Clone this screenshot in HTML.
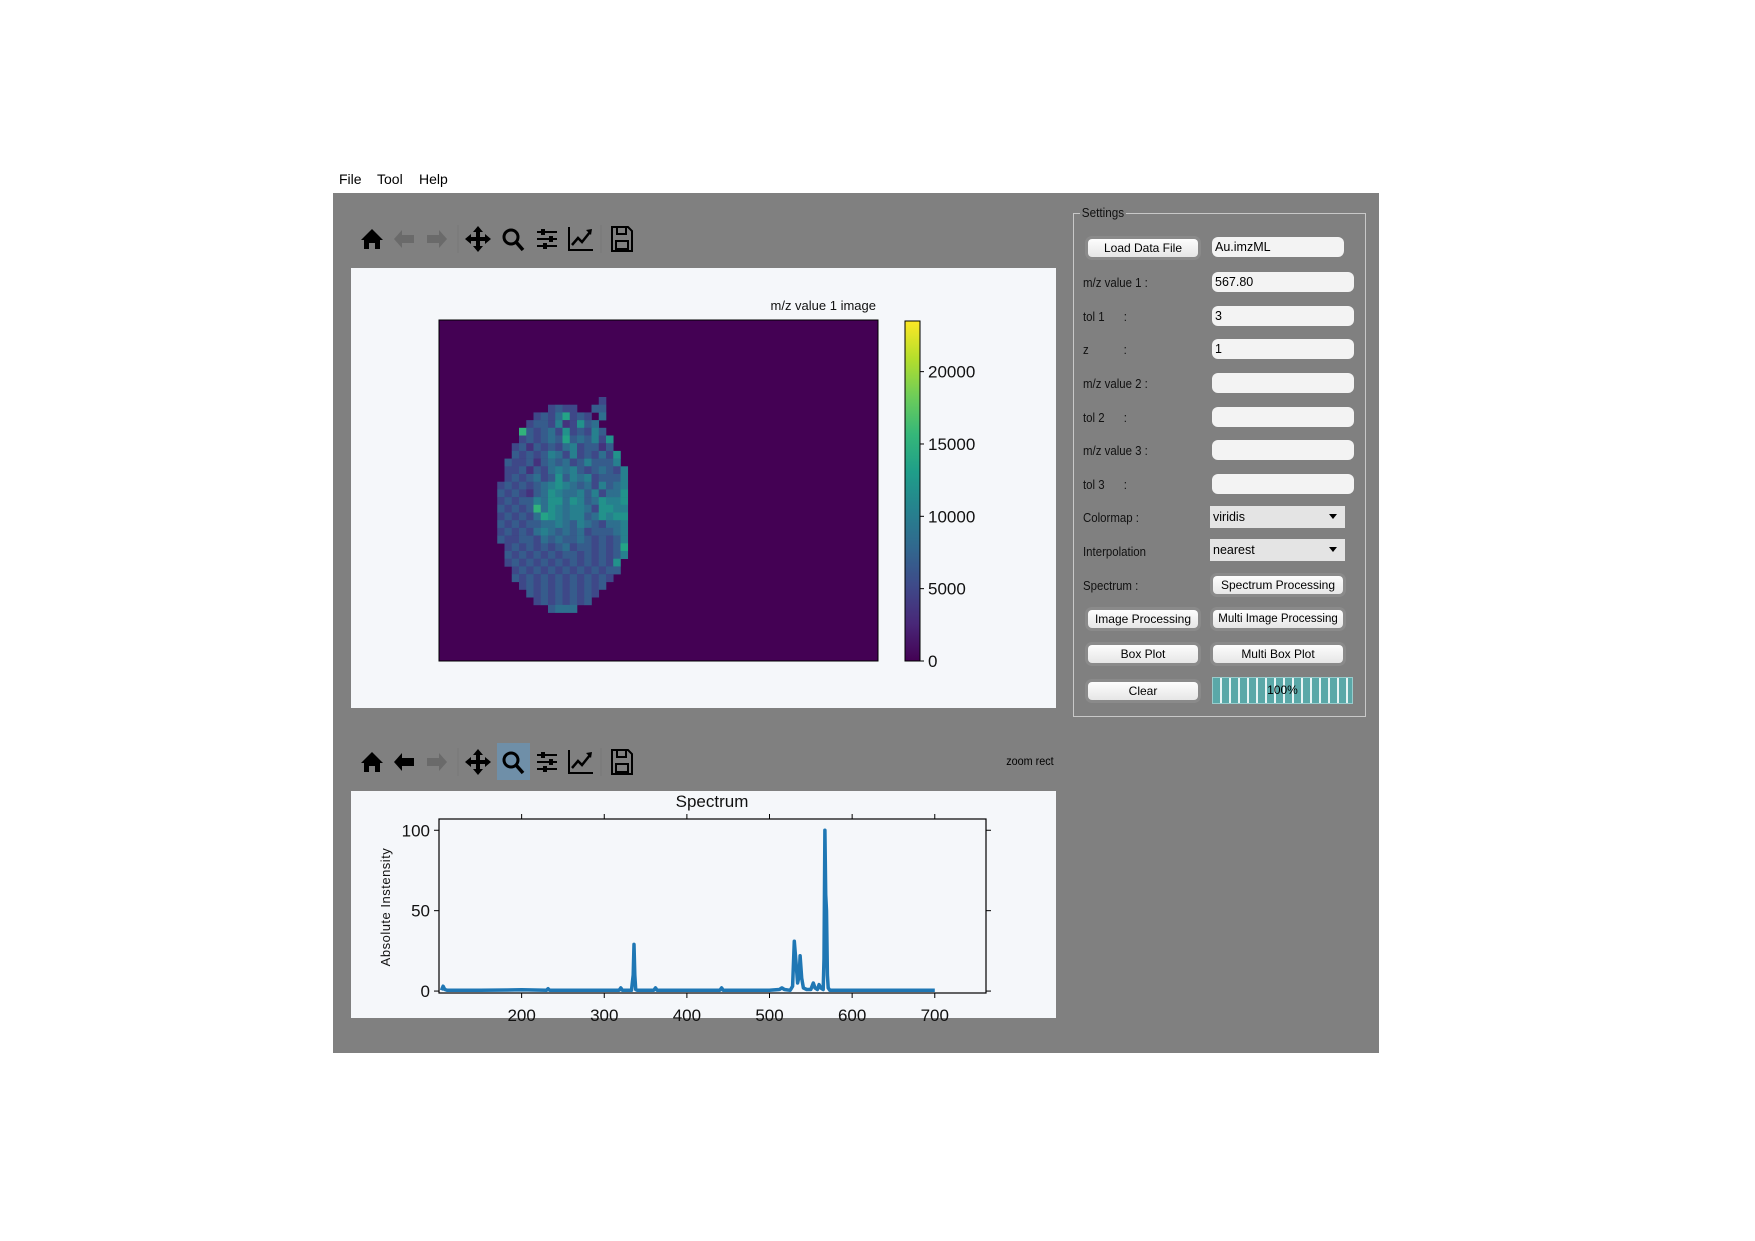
<!DOCTYPE html>
<html><head><meta charset="utf-8">
<style>
body{margin:0;width:1755px;height:1241px;background:#fff;position:relative;overflow:hidden;font-family:"Liberation Sans",sans-serif;}
.abs{position:absolute;}
.menu{font-size:14px;color:#000;top:171px;}
.lbl{position:absolute;left:1083px;font-size:13px;color:#111;transform:scaleX(0.88);transform-origin:left;}
.inp{position:absolute;left:1212px;width:142px;height:20px;background:#f3f3f3;border-radius:6px;font-size:12.5px;line-height:20px;padding-left:3px;box-sizing:border-box;color:#000;}
.btn{position:absolute;height:18px;background:linear-gradient(#fdfdfd,#e6e6e6);border-radius:4px;font-size:12px;line-height:18px;text-align:center;color:#000;box-shadow:0 0 0 3px #8a8a8a;white-space:nowrap;overflow:hidden;}
.combo{position:absolute;left:1210px;width:135px;height:22px;background:#e4e4e4;font-size:12.5px;line-height:22px;padding-left:3px;box-sizing:border-box;}
.combo:after{content:"";position:absolute;right:8px;top:8px;border-left:4px solid transparent;border-right:4px solid transparent;border-top:5px solid #000;}
</style></head><body>
<div class="abs menu" style="left:339px">File</div>
<div class="abs menu" style="left:377px">Tool</div>
<div class="abs menu" style="left:419px">Help</div>
<div class="abs" style="left:333px;top:193px;width:1046px;height:860px;background:#808080"></div>

<svg class="abs" style="left:0;top:0" width="1755" height="1241" id="tb"></svg>

<div class="abs" style="left:351px;top:268px;width:705px;height:440px;background:#f5f7fa"></div>
<div class="abs" style="left:351px;top:791px;width:705px;height:227px;background:#f5f7fa"></div>
<div class="abs" style="right:701px;top:754px;font-size:12px;color:#000;transform:scaleX(0.9);transform-origin:right">zoom rect</div>

<svg class="abs" style="left:0;top:0" width="1755" height="1241" id="charts"></svg>

<div class="abs" style="left:1073px;top:213px;width:293px;height:504px;border:1px solid #c8c8c8;box-sizing:border-box"></div>
<div class="abs" style="left:1080px;top:205px;background:#808080;padding:0 2px;font-size:13px;color:#111;transform:scaleX(0.9);transform-origin:left">Settings</div>
<div class="btn" style="left:1088px;top:239px;width:110px">Load Data File</div>
<div class="inp" style="top:237px;width:132px">Au.imzML</div>
<div class="lbl" style="top:275px">m/z value 1 :</div>
<div class="inp" style="top:272px">567.80</div>
<div class="lbl" style="top:309px">tol 1&nbsp;&nbsp;&nbsp;&nbsp;&nbsp;&nbsp;:</div>
<div class="inp" style="top:306px">3</div>
<div class="lbl" style="top:342px">z&nbsp;&nbsp;&nbsp;&nbsp;&nbsp;&nbsp;&nbsp;&nbsp;&nbsp;&nbsp;&nbsp;:</div>
<div class="inp" style="top:339px">1</div>
<div class="lbl" style="top:376px">m/z value 2 :</div>
<div class="inp" style="top:373px"></div>
<div class="lbl" style="top:410px">tol 2&nbsp;&nbsp;&nbsp;&nbsp;&nbsp;&nbsp;:</div>
<div class="inp" style="top:407px"></div>
<div class="lbl" style="top:443px">m/z value 3 :</div>
<div class="inp" style="top:440px"></div>
<div class="lbl" style="top:477px">tol 3&nbsp;&nbsp;&nbsp;&nbsp;&nbsp;&nbsp;:</div>
<div class="inp" style="top:474px"></div>
<div class="lbl" style="top:510px">Colormap :</div>
<div class="combo" style="top:506px">viridis</div>
<div class="lbl" style="top:544px">Interpolation</div>
<div class="combo" style="top:539px">nearest</div>
<div class="lbl" style="top:578px">Spectrum :</div>
<div class="btn" style="left:1213px;top:576px;width:130px">Spectrum Processing</div>
<div class="btn" style="left:1088px;top:610px;width:110px">Image Processing</div>
<div class="btn" style="left:1213px;top:610px;width:130px;font-size:11.5px">Multi Image Processing</div>
<div class="btn" style="left:1088px;top:645px;width:110px">Box Plot</div>
<div class="btn" style="left:1213px;top:645px;width:130px">Multi Box Plot</div>
<div class="btn" style="left:1088px;top:682px;width:110px">Clear</div>
<div class="abs" style="left:1212px;top:677px;width:141px;height:27px;box-sizing:border-box;border:1px solid #9cc;background:repeating-linear-gradient(90deg,#5aa8a8 0 7px,#e8f4f4 7px 9px);font-size:12px;line-height:25px;text-align:center">100%</div>

<script>
const heatRows = [
"...............3....",
"........3433..44....",
"......34358343.5....",
".....3443623745.....",
"....943453734364....",
"....3434548454637...",
"...34243435634424...",
"...434346536343537..",
"..4334245453464446..",
"..33424356564345436.",
"..34345347465634446.",
".343434567654536456.",
".434324576556463557.",
".343446577576457667.",
".434349576566537766.",
".343435876566457677.",
".434344556546543556.",
".343435654545344456.",
".433443545445434346.",
"..34343434534434348.",
"..43434343443434346.",
"..3434343434343437..",
"...343434343434344..",
"...43434343434343...",
"....343434343434....",
".....4343434343.....",
"......34343434......",
"........4555........"
];
const levelStep = [1700];
const cbarTicks = [0,5000,10000,15000,20000];
const cbarMax = [23500];
const specMz = [103,105,107,110,150,200,230,232,234,280,300,318,320,322,333,335,336,337,338,340,360,362,364,400,440,442,444,500,512,515,518,525,528,530,532,534,536,537,539,541,545,550,553,555,558,560,562,565,566,567,568,569,570,571,573,580,600,650,700];
const specI = [0.5,3,1,0.5,0.5,0.8,0.5,1.5,0.5,0.5,0.5,0.5,2,0.5,0.5,10,29,10,1,0.5,0.5,2,0.5,0.5,0.5,2,0.5,0.5,1,2,1,0.5,3,31,18,5,10,22,8,2,1,1,5,2,1,4,2,1,20,100,60,50,10,2,0.5,0.5,0.5,0.5,0.5];
const xTicks = [200,300,400,500,600,700];
const yTicks = [0,50,100];

const NS="http://www.w3.org/2000/svg";
const svg=document.getElementById('charts');
function mk(tag,attrs,parent){const e=document.createElementNS(NS,tag);for(const k in attrs)e.setAttribute(k,attrs[k]);(parent||svg).appendChild(e);return e;}
const V=[[68,1,84],[72,40,120],[62,74,137],[49,104,142],[38,130,142],[31,158,137],[53,183,121],[109,205,89],[180,222,44],[253,231,37]];
function viridis(t){t=Math.max(0,Math.min(1,t));const p=t*9,i=Math.min(8,Math.floor(p)),f=p-i;const c=V[i].map((v,k)=>Math.round(v+(V[i+1][k]-v)*f));return `rgb(${c[0]},${c[1]},${c[2]})`;}

const ix0=439,iy0=320,ix1=878,iy1=661;
const bg=mk('rect',{x:ix0,y:iy0,width:ix1-ix0,height:iy1-iy0,fill:viridis(0),stroke:'#000','stroke-width':1});


const gx0=490,gy0=397,cw=7.25,ch=7.7;
heatRows.forEach((row,r)=>{[...row].forEach((c,ci)=>{if(c==='.')return;const v=(+c)*levelStep[0];
 const cell=mk('rect',{x:gx0+ci*cw,y:gy0+r*ch,width:cw+0.3,height:ch+0.3,fill:viridis(v/cbarMax[0])});
 
 });});
const it=mk('text',{x:876,y:310,'text-anchor':'end','font-size':13,fill:'#111'});it.textContent='m/z value 1 image';


const cbx=905,cbw=15,cby0=321,cby1=661;
const cbY=v=>cby1-(v/cbarMax[0])*(cby1-cby0);
const defs=mk('defs',{});const lg=mk('linearGradient',{id:'vg',x1:0,y1:1,x2:0,y2:0},defs);
for(let i=0;i<=9;i++)mk('stop',{offset:i/9,'stop-color':viridis(i/9)},lg);
const cb=mk('rect',{x:cbx,y:cby0,width:cbw,height:cby1-cby0,fill:'url(#vg)',stroke:'#000','stroke-width':1});


cbarTicks.forEach(v=>{const y=cbY(v);mk('line',{x1:cbx+cbw,x2:cbx+cbw+4,y1:y,y2:y,stroke:'#000'});
 const t=mk('text',{x:cbx+cbw+8,y:y+6,'font-size':17,fill:'#111'});t.textContent=v;
 
 });

const ax0=439,ax1=986,ay0=819,ay1=993;
const xMin=100,xMax=762,yMin=-1.2,yMax=107;
const X=v=>ax0+(v-xMin)/(xMax-xMin)*(ax1-ax0);
const Y=v=>ay1-(v-yMin)/(yMax-yMin)*(ay1-ay0);
const pts=specMz.map((m,i)=>X(m).toFixed(1)+','+Y(specI[i]).toFixed(1)).join(' ');
const line=mk('polyline',{points:pts,fill:'none',stroke:'#1f77b4','stroke-width':3.5,'stroke-linejoin':'round'});


const fr=mk('rect',{x:ax0,y:ay0,width:ax1-ax0,height:ay1-ay0,fill:'none',stroke:'#000','stroke-width':1.2});


xTicks.forEach(v=>{const x=X(v);mk('line',{x1:x,x2:x,y1:ay1,y2:ay1+5,stroke:'#000'});mk('line',{x1:x,x2:x,y1:ay0,y2:ay0-5,stroke:'#000'});
 const t=mk('text',{x:x,y:1021,'text-anchor':'middle','font-size':17,fill:'#111'});t.textContent=v;
 
 });
yTicks.forEach(v=>{const y=Y(v);mk('line',{x1:ax0,x2:ax0-5,y1:y,y2:y,stroke:'#000'});mk('line',{x1:ax1,x2:ax1+5,y1:y,y2:y,stroke:'#000'});
 const t=mk('text',{x:ax0-9,y:y+6,'text-anchor':'end','font-size':17,fill:'#111'});t.textContent=v;
 
 });
const st=mk('text',{x:712,y:807,'text-anchor':'middle','font-size':17,fill:'#111'});st.textContent='Spectrum';


const yl=mk('text',{x:0,y:0,'text-anchor':'middle','font-size':13,fill:'#111',transform:'translate(390,907) rotate(-90)','letter-spacing':'0.5'});yl.textContent='Absolute Instensity';



const tb=document.getElementById('tb');
function tk(tag,a){return mk(tag,a,tb);}
function toolbar(cy,backActive,zoomActive){
 if(zoomActive){tk('rect',{x:497,y:cy-19,width:33,height:37,fill:'#6f8fa8'});}
 const icons=[['home',372],['back',404],['forward',437],['pan',478],['zoom',513],['configure',547],['edit-axes',581],['save',622]];
 icons.forEach(([n,x])=>{
  const g=tk('g',{transform:`translate(${x},${cy})`});
  
  
  const K='#000',G='#6a6a6a';
  if(n==='home'){mk('path',{d:'M-11,1 L0,-10 L11,1 L8,1 L8,10 L3,10 L3,4 L-3,4 L-3,10 L-8,10 L-8,1Z',fill:K},g);}
  if(n==='back'){mk('path',{d:'M-10,0 L-2,-9 L-2,-4 L10,-4 L10,4 L-2,4 L-2,9Z',fill:backActive?K:G},g);}
  if(n==='forward'){mk('path',{d:'M10,0 L2,-9 L2,-4 L-10,-4 L-10,4 L2,4 L2,9Z',fill:G},g);}
  if(n==='pan'){mk('path',{d:'M0,-13 L5,-7 L2,-7 L2,-2 L7,-2 L7,-5 L13,0 L7,5 L7,2 L2,2 L2,7 L5,7 L0,13 L-5,7 L-2,7 L-2,2 L-7,2 L-7,5 L-13,0 L-7,-5 L-7,-2 L-2,-2 L-2,-7 L-5,-7Z',fill:K},g);}
  if(n==='zoom'){mk('circle',{cx:-2,cy:-2,r:7,fill:'none',stroke:K,'stroke-width':3},g);mk('line',{x1:3,y1:3,x2:10,y2:11,stroke:K,'stroke-width':3.5},g);}
  if(n==='configure'){[-7,0,7].forEach((yy,i)=>{mk('line',{x1:-10,x2:10,y1:yy,y2:yy,stroke:K,'stroke-width':2},g);mk('rect',{x:[-6,2,-4][i],y:yy-3,width:4,height:6,fill:K},g);});}
  if(n==='edit-axes'){mk('path',{d:'M-12,-12 L-12,11 L12,11',fill:'none',stroke:K,'stroke-width':2},g);mk('path',{d:'M-9,6 L-3,-1 L1,3 L9,-7',fill:'none',stroke:K,'stroke-width':2.5},g);mk('path',{d:'M5,-9 L11,-10 L10,-4Z',fill:K},g);}
  if(n==='save'){mk('path',{d:'M-10,-12 L6,-12 L10,-8 L10,12 L-10,12Z',fill:'none',stroke:K,'stroke-width':2},g);mk('rect',{x:-5,y:-12,width:9,height:7,fill:'none',stroke:K,'stroke-width':2},g);mk('rect',{x:-6,y:2,width:12,height:8,fill:'none',stroke:K,'stroke-width':2},g);}
 });
 tk('line',{x1:458,x2:458,y1:cy-14,y2:cy+14,stroke:'#777'});
 tk('line',{x1:601,x2:601,y1:cy-14,y2:cy+14,stroke:'#777'});
}
toolbar(239,false,false);
toolbar(762,true,true);
</script>
</body></html>
